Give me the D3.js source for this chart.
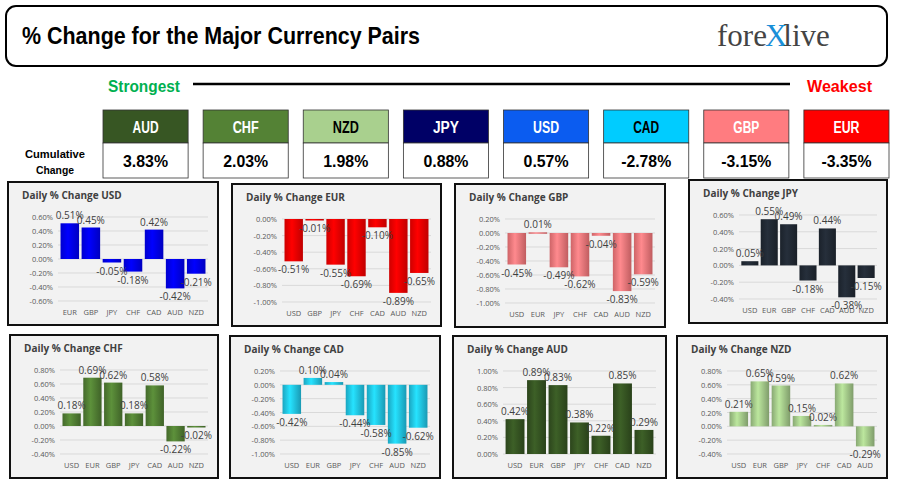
<!DOCTYPE html>
<html><head><meta charset="utf-8">
<script src="https://cdn.jsdelivr.net/npm/d3@7"></script>
<style>body{margin:0;background:#fff}</style>
</head><body>
<div id="chart"></div>
<script>
var rankNames = ['AUD', 'CHF', 'NZD', 'JPY', 'USD', 'CAD', 'GBP', 'EUR']
var rankValues = [3.83, 2.03, 1.98, 0.88, 0.57, -2.78, -3.15, -3.35]

var usdCats = ['EUR', 'GBP', 'JPY', 'CHF', 'CAD', 'AUD', 'NZD']
var usdVals = [0.51, 0.45, -0.05, -0.18, 0.42, -0.42, -0.21]
var eurCats = ['USD', 'GBP', 'JPY', 'CHF', 'CAD', 'AUD', 'NZD']
var eurVals = [-0.51, -0.01, -0.55, -0.69, -0.10, -0.89, -0.65]
var gbpCats = ['USD', 'EUR', 'JPY', 'CHF', 'CAD', 'AUD', 'NZD']
var gbpVals = [-0.45, 0.01, -0.49, -0.62, -0.04, -0.83, -0.59]
var jpyCats = ['USD', 'EUR', 'GBP', 'CHF', 'CAD', 'AUD', 'NZD']
var jpyVals = [0.05, 0.55, 0.49, -0.18, 0.44, -0.38, -0.15]
var chfCats = ['USD', 'EUR', 'GBP', 'JPY', 'CAD', 'AUD', 'NZD']
var chfVals = [0.18, 0.69, 0.62, 0.18, 0.58, -0.22, -0.02]
var cadCats = ['USD', 'EUR', 'GBP', 'JPY', 'CHF', 'AUD', 'NZD']
var cadVals = [-0.42, 0.10, 0.04, -0.44, -0.58, -0.85, -0.62]
var audCats = ['USD', 'EUR', 'GBP', 'JPY', 'CHF', 'CAD', 'NZD']
var audVals = [0.42, 0.89, 0.83, 0.38, 0.22, 0.85, 0.29]
var nzdCats = ['USD', 'EUR', 'GBP', 'JPY', 'CHF', 'CAD', 'AUD']
var nzdVals = [0.21, 0.65, 0.59, 0.15, 0.02, 0.62, -0.29]

var colors = { AUD: '#375623', CHF: '#548235', NZD: '#a9d08e', JPY: '#000066',
    USD: '#0b5cf0', CAD: '#00ccff', GBP: '#ff7c80', EUR: '#ff0000' }
var darkText = { NZD: true, CAD: true }

var bold = "'Liberation Sans', Arial, sans-serif"
var svg = d3.select('#chart').append('svg').attr('width', 900).attr('height', 496)
var defs = svg.append('defs')

// condensed heavy text by squeezing into a fixed length
function squeezed(x, y, s, size, len, anchor) {
    return svg.append('text').attr('x', x).attr('y', y).text(s)
        .attr('text-anchor', anchor || 'start')
        .attr('textLength', len).attr('lengthAdjust', 'spacingAndGlyphs')
        .style('font-family', bold).style('font-weight', 'bold').style('font-size', size + 'px')
}

// header
svg.append('rect').attr('x', 6).attr('y', 6).attr('width', 881).attr('height', 60)
    .attr('rx', 10).attr('fill', '#fff').attr('stroke', '#000').attr('stroke-width', 2)
squeezed(22, 44, '% Change for the Major Currency Pairs', 24, 398)
var logo = svg.append('text').attr('x', 717).attr('y', 46)
    .style('font-family', "'Liberation Serif', serif").style('font-size', '31px').attr('fill', '#444')
logo.append('tspan').text('fore')
logo.append('tspan').text('X').attr('fill', '#1a8fd8').attr('dx', -2)
logo.append('tspan').text('live').attr('dx', -4)

squeezed(108, 92, 'Strongest', 17, 72).attr('fill', '#00b050')
squeezed(872, 92, 'Weakest', 17, 65, 'end').attr('fill', '#ff0000')
svg.append('line').attr('x1', 193).attr('x2', 790).attr('y1', 84).attr('y2', 84)
    .attr('stroke', '#000').attr('stroke-width', 2.5)

squeezed(55, 158, 'Cumulative', 11, 60, 'middle')
squeezed(55, 174, 'Change', 11, 38, 'middle')

var bx = d3.scaleBand().domain(rankNames).range([103, 889]).paddingInner(0.15)
var boxes = svg.append('g').selectAll('g').data(rankNames).enter().append('g')
boxes.append('rect').attr('x', d => bx(d)).attr('y', 110).attr('width', bx.bandwidth()).attr('height', 33)
    .attr('fill', d => colors[d]).attr('stroke', '#333').attr('stroke-width', 0.8)
boxes.append('rect').attr('x', d => bx(d)).attr('y', 143).attr('width', bx.bandwidth()).attr('height', 35)
    .attr('fill', '#fff').attr('stroke', '#333').attr('stroke-width', 0.8)
boxes.append('text').attr('x', d => bx(d) + bx.bandwidth() / 2).attr('y', 133).text(d => d)
    .attr('text-anchor', 'middle').attr('fill', d => darkText[d] ? '#000' : '#fff')
    .attr('textLength', 26).attr('lengthAdjust', 'spacingAndGlyphs')
    .style('font-family', bold).style('font-weight', 'bold').style('font-size', '16px')
boxes.append('text').attr('x', d => bx(d) + bx.bandwidth() / 2).attr('y', 167)
    .text((d, i) => rankValues[i].toFixed(2) + '%')
    .attr('text-anchor', 'middle')
    .attr('textLength', (d, i) => rankValues[i] < 0 ? 50 : 45).attr('lengthAdjust', 'spacingAndGlyphs')
    .style('font-family', bold).style('font-weight', 'bold').style('font-size', '17px')

function panel(p) {
    var g = svg.append('g')
    g.append('rect').attr('x', p.x).attr('y', p.y).attr('width', p.w).attr('height', p.h)
        .attr('fill', '#f2f2f2').attr('stroke', '#111').attr('stroke-width', 2)
    g.append('text').attr('x', p.x + 14).attr('y', p.y + 17).text('Daily % Change ' + p.name)
        .attr('fill', '#404040').style('font-family', "'Open Sans', sans-serif")
        .style('font-weight', 'bold').style('font-size', '10px')
    var gid = 'grad' + p.name
    var lg = defs.append('linearGradient').attr('id', gid)
    var c = d3.color(p.color)
    lg.append('stop').attr('offset', '0%').attr('stop-color', c.darker(0.6))
    lg.append('stop').attr('offset', '40%').attr('stop-color', c.brighter(0.3))
    lg.append('stop').attr('offset', '100%').attr('stop-color', c.darker(0.8))
    var x = d3.scaleBand().domain(p.cats).range([p.x + 50, p.x + p.w - 10]).padding(0.12)
    var y = d3.scaleLinear().domain(p.dom).range([p.y + p.h - 24, p.y + 35])
    var ticks = d3.range(p.dom[0], p.dom[1] + 0.001, 0.2)
    g.selectAll('.grid').data(ticks).enter().append('line')
        .attr('x1', p.x + 50).attr('x2', p.x + p.w - 10)
        .attr('y1', d => y(d)).attr('y2', d => y(d)).attr('stroke', '#d9d9d9')
    g.selectAll('.tk').data(ticks).enter().append('text')
        .attr('x', p.x + 45).attr('y', d => y(d) + 3).attr('text-anchor', 'end')
        .text(d => (Math.abs(d) < 1e-9 ? 0 : d).toFixed(2) + '%')
        .attr('fill', '#595959').style('font-family', "'Open Sans', sans-serif").style('font-size', '7.5px')
    g.selectAll('.cat').data(p.cats).enter().append('text')
        .attr('x', d => x(d) + x.bandwidth() / 2).attr('y', p.y + p.h - 10).attr('text-anchor', 'middle')
        .text(d => d).attr('fill', '#595959').style('font-family', "'Open Sans', sans-serif").style('font-size', '7.5px')
    g.selectAll('.bar').data(p.vals).enter().append('rect')
        .attr('x', (d, i) => x(p.cats[i])).attr('width', x.bandwidth())
        .attr('y', d => y(Math.max(0, d))).attr('height', d => Math.max(1.5, Math.abs(y(d) - y(0))))
        .attr('fill', 'url(#' + gid + ')')
    g.selectAll('.lbl').data(p.vals).enter().append('text')
        .attr('x', (d, i) => x(p.cats[i]) + x.bandwidth() / 2)
        .attr('y', d => d >= 0 ? y(d) - 4 : y(d) + 12).attr('text-anchor', 'middle')
        .text(d => d.toFixed(2) + '%').attr('fill', '#404040')
        .style('font-family', "'Open Sans', sans-serif").style('font-size', '10px')
}

panel({ name: 'USD', x: 8, y: 182, w: 210, h: 143, cats: usdCats, vals: usdVals, dom: [-0.6, 0.6], color: '#0000ff' })
panel({ name: 'EUR', x: 232, y: 184, w: 209, h: 142, cats: eurCats, vals: eurVals, dom: [-1, 0], color: '#ff0000' })
panel({ name: 'GBP', x: 455, y: 184, w: 210, h: 143, cats: gbpCats, vals: gbpVals, dom: [-1, 0.2], color: '#ff7c80' })
panel({ name: 'JPY', x: 689, y: 180, w: 198, h: 143, cats: jpyCats, vals: jpyVals, dom: [-0.4, 0.6], color: '#222a35' })
panel({ name: 'CHF', x: 10, y: 335, w: 208, h: 143, cats: chfCats, vals: chfVals, dom: [-0.4, 0.8], color: '#548235' })
panel({ name: 'CAD', x: 230, y: 336, w: 210, h: 142, cats: cadCats, vals: cadVals, dom: [-1, 0.2], color: '#22ccee' })
panel({ name: 'AUD', x: 453, y: 336, w: 213, h: 142, cats: audCats, vals: audVals, dom: [0, 1], color: '#375623' })
panel({ name: 'NZD', x: 677, y: 336, w: 210, h: 142, cats: nzdCats, vals: nzdVals, dom: [-0.4, 0.8], color: '#a9d08e' })
</script>
</body></html>
